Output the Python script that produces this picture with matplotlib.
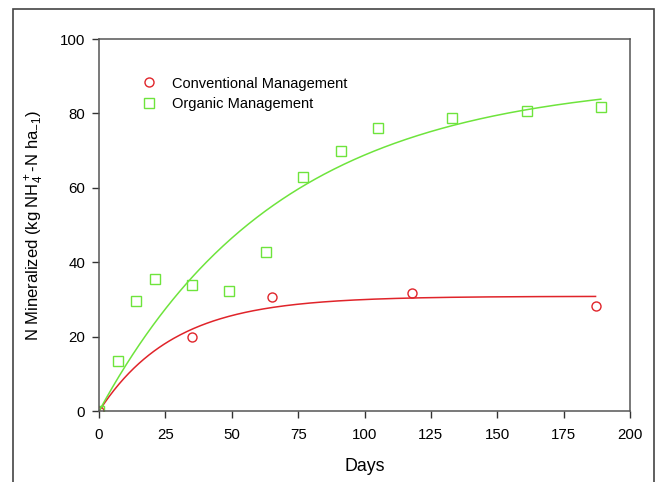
import numpy as np
import matplotlib
matplotlib.use('Agg')
import matplotlib.pyplot as plt
from matplotlib.patches import Rectangle

plt.rcParams['font.family'] = ['Liberation Sans', 'DejaVu Sans']
plt.rcParams['mathtext.default'] = 'regular'

# Measured N mineralization
days_conv = [0, 35, 65, 118, 187]
n_conv = [0, 20.0, 30.7, 31.8, 28.3]

days_org = [0, 7, 14, 21, 35, 49, 63, 77, 91, 105, 133, 161, 189]
n_org = [0, 13.5, 29.5, 35.5, 33.8, 32.2, 42.8, 62.8, 69.8, 76.2, 78.8, 80.7, 81.8]

RED = '#e0242a'
GREEN = '#6ee43c'


def fit_first_order(t, y):
    '''Fit N = N0*(1 - exp(-k t)) by grid search over k'''
    t = np.asarray(t, float)
    y = np.asarray(y, float)
    best = None
    for k in np.linspace(0.001, 0.2, 4000):
        f = 1 - np.exp(-k*t)
        n0 = np.dot(f, y)/np.dot(f, f)
        err = np.sum((y - n0*f)**2)
        if best is None or err < best[0]:
            best = (err, n0, k)
    return best[1], best[2]


fig = plt.figure(figsize=(6.57, 4.82), dpi=100)
ax = fig.add_axes([0.1507, 0.147, 0.8083, 0.772])

for t, y, c, m, lab in [(days_conv, n_conv, RED, 'o', 'Conventional Management'),
                        (days_org, n_org, GREEN, 's', 'Organic Management')]:
    n0, k = fit_first_order(t, y)
    tt = np.linspace(0, max(t), 300)
    ax.plot(tt, n0*(1 - np.exp(-k*tt)), color=c, linewidth=1.1)
    ax.plot(t, y, linestyle='none', marker=m, markersize=6.5,
            markerfacecolor='none', markeredgecolor=c, markeredgewidth=1.0,
            label=lab)

ax.set_xlim(0, 200)
ax.set_ylim(0, 100)
ax.set_xticks(np.arange(0, 201, 25))
ax.set_yticks(np.arange(0, 101, 20))
ax.tick_params(direction='out', length=5, width=1, colors='#333333',
               labelcolor='black', labelsize=10.8)
ax.tick_params(axis='x', pad=7)
ax.tick_params(axis='y', pad=5)
for s in ax.spines.values():
    s.set_color('#555555')
    s.set_linewidth(1.1)

ax.set_xlabel('Days', fontsize=12.8, labelpad=12)
ax.set_ylabel('N Mineralized (kg NH$_4^+$-N ha$_{-1}$)', fontsize=12,
              labelpad=10)

ax.legend(loc='upper left', bbox_to_anchor=(0.055, 0.915), frameon=False,
          fontsize=10.5, handletextpad=0.6, labelspacing=0.45,
          borderaxespad=0)

# frame around the figure
fig.patches.append(Rectangle((13/657, -0.1), (654-13)/657, 1 - 9/482 + 0.1,
                             transform=fig.transFigure, fill=False,
                             edgecolor='#444444', linewidth=1.2))

fig.savefig('out.png', dpi=100)
